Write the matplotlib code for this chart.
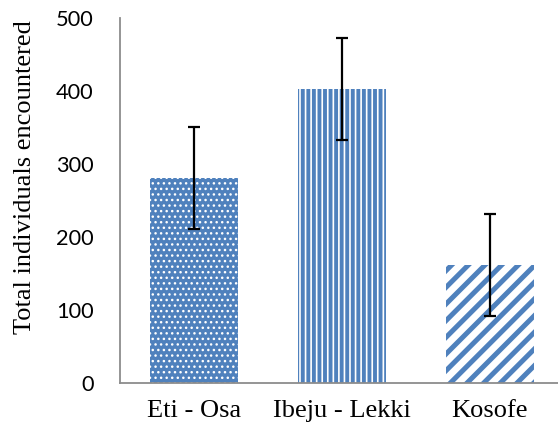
import matplotlib
matplotlib.use("Agg")
import matplotlib.pyplot as plt

sites = ["Eti - Osa", "Ibeju - Lekki", "Kosofe"]
totals = [281, 403, 162]
errors = [70, 70, 70]
yticks = [0, 100, 200, 300, 400, 500]

blue = "#4F81BD"

fig = plt.figure(figsize=(5.58, 4.32), dpi=100)
ax = fig.add_axes([120 / 558, 1 - 383 / 432, 438 / 558, 365 / 432])

# each bar has its own fill pattern
styles = [
    dict(facecolor=blue, edgecolor="white", hatch="...", hlw=1.0),
    dict(facecolor="white", edgecolor=blue, hatch="|||", hlw=2.8),
    dict(facecolor="white", edgecolor=blue, hatch="//", hlw=3.6),
]
for i, (site, val) in enumerate(zip(sites, totals)):
    st = styles[i]
    plt.rcParams["hatch.linewidth"] = st["hlw"]
    b = ax.bar(i, val, width=0.59, facecolor=st["facecolor"],
               edgecolor=st["edgecolor"], hatch=st["hatch"], linewidth=0)
    for p in b:
        if hasattr(p, "set_hatch_linewidth"):
            p.set_hatch_linewidth(st["hlw"])

ax.errorbar(range(len(sites)), totals, yerr=errors, fmt="none",
            ecolor="black", elinewidth=1.6, capsize=4.3, capthick=1.6)

ax.set_xlim(-0.5, 2.46)
ax.set_ylim(0, 500)
ax.set_yticks(yticks)
ax.set_xticks(range(len(sites)))
ax.set_xticklabels(sites, fontfamily="Liberation Serif", fontsize=19)
ax.set_yticklabels([str(t) for t in yticks], fontfamily="Lato", fontsize=15.7)
ax.tick_params(axis="y", length=0, pad=19)
ax.tick_params(axis="x", length=0, pad=12)

for s in ["top", "right"]:
    ax.spines[s].set_visible(False)
for s in ["left", "bottom"]:
    ax.spines[s].set_color("#8C8C8C")
    ax.spines[s].set_linewidth(1.3)

fig.text(25 / 558, 1 - 177 / 432, "Total individuals encountered",
         rotation=90, ha="center", va="center",
         fontfamily="Liberation Serif", fontsize=19)

fig.savefig("out.png", dpi=100)
